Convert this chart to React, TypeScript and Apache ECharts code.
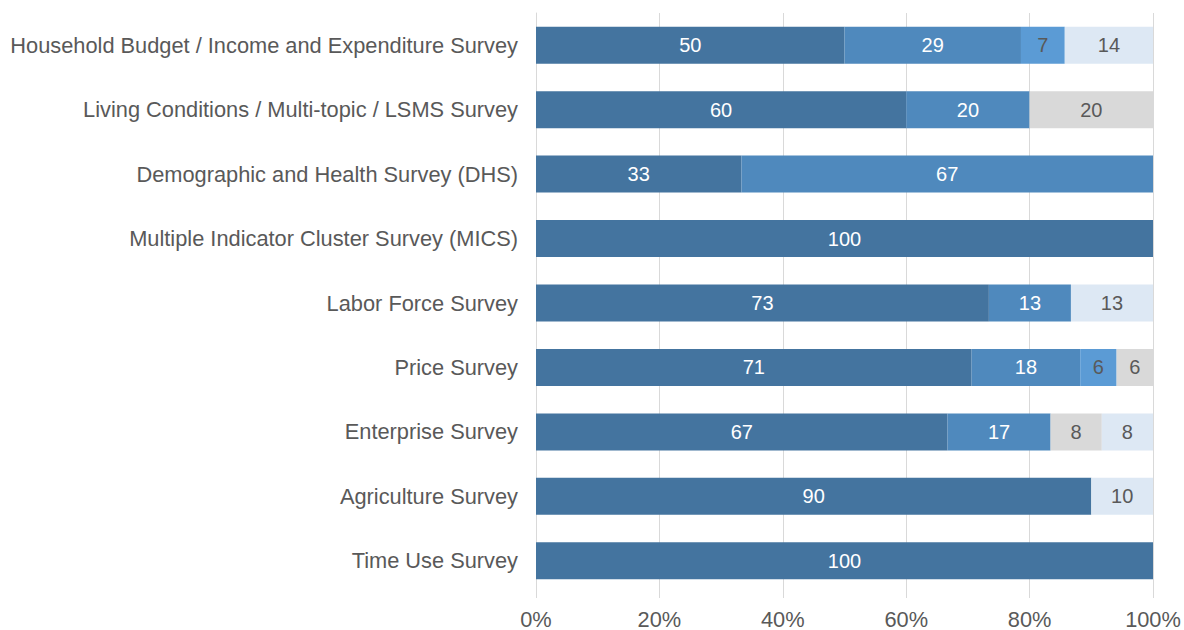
import React, { useEffect, useRef } from "react";
import * as echarts from "echarts";

const categories = [
  "Household Budget / Income and Expenditure Survey",
  "Living Conditions / Multi-topic / LSMS Survey",
  "Demographic and Health Survey (DHS)",
  "Multiple Indicator Cluster Survey (MICS)",
  "Labor Force Survey",
  "Price Survey",
  "Enterprise Survey",
  "Agriculture Survey",
  "Time Use Survey",
];

const seriesA = [50, 60, 33.3, 100, 73.4, 70.6, 66.7, 90, 100];
const seriesB = [28.6, 20, 66.7, 0, 13.3, 17.6, 16.7, 0, 0];
const seriesC = [7.1, 0, 0, 0, 0, 5.9, 0, 0, 0];
const seriesD = [0, 20, 0, 0, 0, 5.9, 8.3, 0, 0];
const seriesE = [14.3, 0, 0, 0, 13.3, 0, 8.3, 10, 0];

const xTicks = [0, 20, 40, 60, 80, 100];

export default function App() {
  const ref = useRef<HTMLDivElement>(null);
  useEffect(() => {
    const chart = echarts.init(ref.current!, null, { renderer: "svg" });
    const font = "Liberation Sans, Arial, sans-serif";
    const mk = (name: string, data: number[], color: string, labelColor: string) => ({
      name,
      type: "bar",
      stack: "total",
      data,
      barWidth: 37,
      itemStyle: { color },
      label: {
        show: true,
        position: "inside",
        color: labelColor,
        fontSize: 20,
        fontFamily: font,
        formatter: (p: any) => (p.value ? String(Math.round(p.value)) : ""),
      },
    });
    chart.setOption({
      animation: false,
      grid: { left: 536, right: 31, top: 13, bottom: 36, containLabel: false },
      xAxis: {
        type: "value",
        min: 0,
        max: 100,
        interval: 20,
        axisLine: { show: false },
        axisTick: { show: true, length: 5, lineStyle: { color: "#d9d9d9" } },
        splitLine: { show: true, lineStyle: { color: "#d9d9d9", width: 1 } },
        axisLabel: {
          color: "#595959",
          fontSize: 21.8,
          fontFamily: font,
          margin: 15,
          formatter: (v: number) => (xTicks.includes(v) ? v + "%" : ""),
        },
      },
      yAxis: {
        type: "category",
        data: categories,
        inverse: true,
        axisLine: { show: true, lineStyle: { color: "#d9d9d9" } },
        axisTick: { show: false },
        axisLabel: {
          color: "#595959",
          fontSize: 21.8,
          fontFamily: font,
          margin: 18,
        },
      },
      series: [
        mk("A", seriesA, "#44749f", "#ffffff"),
        mk("B", seriesB, "#4f89bd", "#ffffff"),
        mk("C", seriesC, "#5b9bd5", "#595959"),
        mk("D", seriesD, "#d9d9d9", "#595959"),
        mk("E", seriesE, "#dde8f4", "#595959"),
      ],
    });
    return () => chart.dispose();
  }, []);
  return <div ref={ref} style={{ width: 1184, height: 630, position: "absolute", left: 0, top: 0 }} />;
}
